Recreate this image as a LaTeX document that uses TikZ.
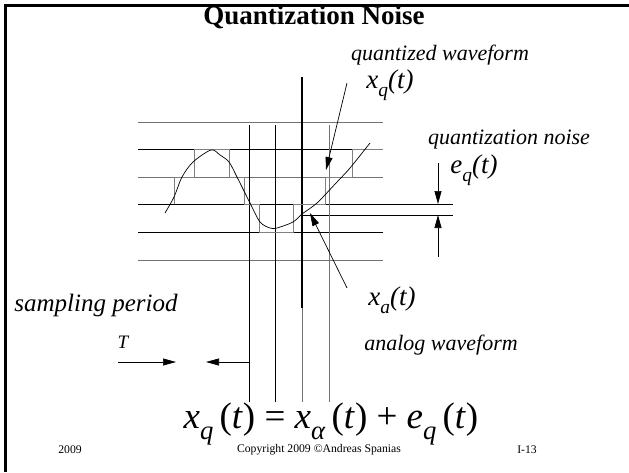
\documentclass[tikz,border=0pt]{standalone}
\usepackage{fontspec}
\setmainfont{Liberation Serif}
\usetikzlibrary{arrows.meta,positioning}
\newcommand{\low}[1]{\raisebox{-0.3em}{\scalebox{0.72}{#1}}}

\begin{document}
\begin{tikzpicture}[x=1pt,y=-1pt,
    >={Triangle[length=13pt,width=7pt]},
    level/.style={line width=0.9pt},
    levelgray/.style={line width=0.9pt, black!55},
    sample/.style={line width=0.9pt},
    stair/.style={line width=0.9pt, black!50},
    label/.style={font=\fontsize{22}{24}\selectfont\itshape, inner sep=0pt},
    sym/.style={font=\fontsize{27}{29}\selectfont\itshape, inner sep=0pt},
    foot/.style={font=\fontsize{11.7}{13}\selectfont, inner sep=0pt}
  ]
  \useasboundingbox (0,0) rectangle (629,472);

  % frame
  \draw[line width=3pt] (5,472) -- (5,5) -- (629,5);

  % title
  \node[font=\fontsize{27}{30}\selectfont\bfseries, inner sep=0pt] (title) at (314,17) {Quantization Noise};

  % quantization levels
  \foreach \y/\s in {122/levelgray, 149/level, 177/levelgray, 232/level, 260/levelgray}
    \draw[\s] (138,\y) -- (383,\y);
  \draw[level] (138,204) -- (453,204);
  \draw[level] (302,215) -- (453,215);

  % sampling instants
  \draw[sample] (249,125) -- (249,402);
  \draw[sample] (275,125) -- (275,402);
  \draw[line width=2pt] (302,77) -- (302,308);
  \draw[sample, black!55] (302,308) -- (302,402);
  \draw[sample, black!55] (329,125) -- (329,402);

  % quantized waveform
  \draw[stair] (174,204) -- (174,177) -- (194,177) -- (194,149) -- (229,149)
    -- (229,177) -- (244,177) -- (244,204) -- (259,204) -- (259,232)
    -- (293,232) -- (293,204) -- (325,204) -- (325,177) -- (352,177)
    -- (352,149) -- (383,149);

  % analog waveform
  \draw[line width=0.7pt] plot[smooth] coordinates {(165,213) (174,197) (182,177)
    (193,162) (211,150) (220,155) (229,162) (237,177) (250,203) (260,222)
    (270,228) (277,228) (293,222) (302,214) (317,203) (337,182) (350,168) (370,143)};

  % labels
  \node[label] (qwave) at (440,55) {quantized waveform};
  \node[sym] (xq) at (390,85) {x\low{q}(t)};
  \node[label] (qnoise) at (509,140) {quantization noise};
  \node[sym] (eq) at (474,170) {e\low{q}(t)};
  \node[label, font=\fontsize{25}{27}\selectfont\itshape] (sampling) at (96,305) {sampling period};
  \node[label, font=\fontsize{19}{21}\selectfont\itshape] (T) at (123,342) {T};
  \node[sym] (xa) at (392,300) {x\low{a}(t)};
  \node[label] (awave) at (441,345) {analog waveform};

  % arrows
  \coordinate (xqfrom) at (347,83);
  \coordinate (xqto) at (326,170);
  \draw[->, line width=0.7pt] (xqfrom) -- (xqto);
  \coordinate (xafrom) at (347,288);
  \coordinate (xato) at (310,213);
  \draw[->, line width=0.7pt] (xafrom) -- (xato);
  \coordinate (eqtop) at (438,163);
  \coordinate (eqhi) at (438,204);
  \coordinate (eqbot) at (438,257);
  \coordinate (eqlo) at (438,215);
  \draw[->, line width=0.7pt] (eqtop) -- (eqhi);
  \draw[->, line width=0.7pt] (eqbot) -- (eqlo);
  \coordinate (Tleft) at (118,362);
  \coordinate (Tright) at (249,362);
  \draw[->, line width=0.7pt] (Tleft) -- (176,362);
  \draw[->, line width=0.7pt] (Tright) -- (206,362);

  % equation
  \node[font=\fontsize{37}{40}\selectfont, inner sep=0pt] (eqn) at (331,424)
    {\textit{x}\low{\textit{q}}\,(\textit{t}) = \textit{x}\low{\textit{α}}\,(\textit{t}) + \textit{e}\low{\textit{q}}\,(\textit{t})};

  % footer
  \node[foot] (year) at (70,450) {2009};
  \node[foot] (copy) at (319,450) {Copyright 2009 ©Andreas Spanias};
  \node[foot] (page) at (527,450) {I-13};
\end{tikzpicture}
\end{document}
